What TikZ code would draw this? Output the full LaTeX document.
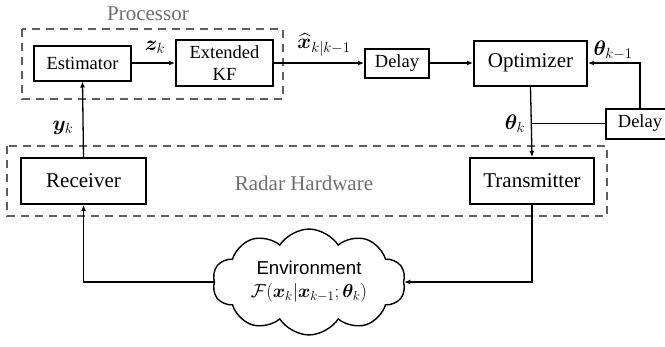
\RequirePackage{fix-cm}
\documentclass[tikz,border=0pt]{standalone}
\usepackage{amsmath}
\usepackage{bm}
\usepackage[no-math]{fontspec}
\setmainfont{Liberation Serif}
\newfontfamily\arialfont{Liberation Sans}
\usetikzlibrary{shapes.symbols,arrows.meta}
\definecolor{dashgray}{RGB}{95,95,95}
\definecolor{labelgray}{RGB}{110,110,110}
\tikzset{
  blk/.style={draw, line width=2pt, inner sep=0pt, align=center},
  small/.style={font=\fontsize{18.5}{20}\selectfont},
  big/.style={font=\fontsize{21}{23}\selectfont},
  conn/.style={line width=1.3pt},
  arr/.style={conn, -{Latex[length=6pt,width=5pt]}},
  group/.style={draw=dashgray, line width=2.2pt, dash pattern=on 8pt off 6pt},
  grouplabel/.style={text=labelgray, font=\fontsize{21}{23}\selectfont},
  mlabel/.style={font=\fontsize{21}{23}\selectfont, inner sep=0pt}
}
\begin{document}
\begin{tikzpicture}[x=1pt,y=-1pt]
\useasboundingbox (0,0) rectangle (665,346);
% group boxes
\draw[group] (22,29) rectangle (283,99);
\draw[group] (7,146) rectangle (607,216);
\node[grouplabel] (proclbl) at (148,14) {Processor};
\node[grouplabel] (hwlbl) at (304,183) {Radar Hardware};
% blocks
\node[blk, small, minimum width=97pt, minimum height=35pt] (est) at (82.5,63) {Estimator};
\node[blk, small, minimum width=97pt, minimum height=46pt, font=\fontsize{18.5}{22}\selectfont] (kf) at (224.5,63) {Extended\\KF};
\node[blk, small, minimum width=64pt, minimum height=29pt] (d1) at (397,63) {Delay};
\node[blk, big, minimum width=113pt, minimum height=45pt] (opt) at (530.5,63) {Optimizer};
\node[blk, small, minimum width=68pt, minimum height=30pt] (d2) at (640,123.5) {Delay};
\node[blk, big, minimum width=125pt, minimum height=46pt] (rec) at (83.5,181) {Receiver};
\node[blk, big, minimum width=124pt, minimum height=46pt] (tx) at (532,181) {Transmitter};
\node[cloud, draw, line width=1.4pt, cloud puffs=10, cloud puff arc=115, aspect=2,
      minimum width=193pt, minimum height=95pt, inner sep=0pt, align=center,
      font=\fontsize{18.7}{23}\selectfont] (env) at (309,282)
      {{\arialfont Environment}\\
       $\mathcal{F}(\bm{x}_k|\bm{x}_{k-1};\bm{\theta}_k)$};
% connectors
\draw[arr] (est.east) -- (kf.west);
\draw[arr] (kf.east) -- (d1.west);
\draw[arr] (d1.east) -- (opt.west);
\draw[arr] (d2.north) |- (opt.east);
\draw[arr] (opt.south) -- (tx.north);
\coordinate (j) at (opt.south |- d2.west);
\draw[conn] (j) -- (d2.west);
\draw[arr] (tx.south) |- (env.east);
\draw[arr] (env.west) -| (rec.south);
\draw[arr] (rec.north) -- (est.south);
% labels
\node[mlabel] (zl) at (155,47) {$\bm{z}_k$};
\node[mlabel] (yl) at (63,128) {$\bm{y}_k$};
\node[mlabel] (xl) at (324,45) {$\widehat{\bm{x}}_{k|k-1}$};
\node[mlabel] (tl1) at (613,50) {$\bm{\theta}_{k-1}$};
\node[mlabel] (tl) at (515,124) {$\bm{\theta}_k$};
\end{tikzpicture}
\end{document}
